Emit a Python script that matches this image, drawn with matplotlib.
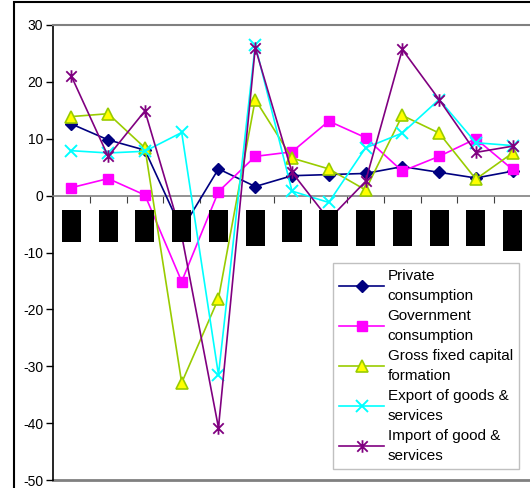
import matplotlib
matplotlib.use("Agg")
import matplotlib.pyplot as plt
from matplotlib.path import Path
from matplotlib.patches import Rectangle
import numpy as np

plt.rcParams['font.family'] = ['Liberation Sans', 'DejaVu Sans']
plt.rcParams['axes.unicode_minus'] = False

# Growth rates (%) for 13 periods
periods = np.arange(13)
private_consumption = [12.6, 9.8, 8.0, -6.0, 4.7, 1.6, 3.5, 3.7, 3.9, 5.1, 4.1, 3.1, 4.3]
government_consumption = [1.4, 3.0, 0.1, -15.1, 0.7, 6.9, 7.7, 13.1, 10.2, 4.3, 6.9, 10.0, 4.6]
gross_fixed_capital = [13.9, 14.4, 8.4, -32.9, -18.1, 16.9, 6.6, 4.7, 1.0, 14.1, 11.0, 2.9, 7.5]
exports = [7.9, 7.5, 7.8, 11.1, -31.5, 26.5, 0.8, -1.2, 8.4, 11.0, 16.9, 9.3, 8.8]
imports = [21.0, 6.9, 14.9, -7.0, -40.8, 26.0, 4.1, -4.2, 2.5, 25.7, 16.9, 7.6, 8.7]

# Period labels are masked by solid blocks; depth of each block
label_top = -2.5
label_bottom = [-8.1, -8.1, -8.1, -8.1, -8.1, -8.9, -8.1, -8.9, -8.9, -8.9, -8.9, -8.9, -9.8]

W, H = 530, 488
fig = plt.figure(figsize=(W / 100, H / 100), dpi=100)
ax = fig.add_axes([53 / W, 8 / H, 478 / W, 455 / H])

# Excel-style star marker: vertical bar plus an X
star = Path([(-1, -1), (1, 1), (-1, 1), (1, -1), (0, -1.2), (0, 1.2)],
            [Path.MOVETO, Path.LINETO, Path.MOVETO, Path.LINETO, Path.MOVETO, Path.LINETO])

lw = 1.2
ax.plot(periods, private_consumption, color='#000080', lw=lw, marker='D', ms=6.5,
        mfc='#000080', mec='#000080', label='Private\nconsumption', zorder=3)
ax.plot(periods, government_consumption, color='#FF00FF', lw=lw, marker='s', ms=7.5,
        mfc='#FF00FF', mec='#FF00FF', label='Government\nconsumption', zorder=3)
ax.plot(periods, gross_fixed_capital, color='#99CC00', lw=lw, marker='^', ms=8.5,
        mfc='#FFFF00', mec='#99CC00', mew=1.2, label='Gross fixed capital\nformation', zorder=3)
ax.plot(periods, exports, color='#00FFFF', lw=lw, marker='x', ms=9,
        mec='#00FFFF', mew=1.4, label='Export of goods &\nservices', zorder=3)
ax.plot(periods, imports, color='#800080', lw=lw, marker=star, ms=9,
        mec='#800080', mew=1.3, label='Import of good &\nservices', zorder=3)

# masked category labels
heights = [b - label_top for b in label_bottom]
ax.bar(periods, heights, bottom=label_top, width=0.52, color='black', zorder=4)

ax.set_xlim(-0.5, 12.5)
ax.set_ylim(-50, 30)
ax.set_yticks(np.arange(-50, 31, 10))
ax.tick_params(axis='y', direction='out', length=5, width=1, pad=2, labelsize=10)
ax.set_xticks(np.arange(0.5, 12, 1))
ax.set_xticklabels([])
ax.tick_params(axis='x', direction='out', length=5, width=0.8, colors='#404040')

ax.spines['bottom'].set_position(('data', 0))
ax.spines['bottom'].set_color('#808080')
ax.spines['bottom'].set_linewidth(1.2)
ax.spines['top'].set_color('#808080')
ax.spines['top'].set_linewidth(1.5)
ax.spines['right'].set_visible(False)
ax.spines['left'].set_linewidth(1.2)
ax.axhline(-50, color='#808080', lw=2, clip_on=False, zorder=1)

leg = ax.legend(loc='upper left', bbox_to_anchor=(333 / W, 1 - 263 / H),
                bbox_transform=fig.transFigure, borderaxespad=0, fontsize=11,
                handlelength=2.95, handletextpad=0.2, labelspacing=0.42,
                borderpad=0.42, fancybox=False, framealpha=1, edgecolor='#C0C0C0')
leg.get_frame().set_linewidth(1.0)
for t in leg.get_texts():
    t.set_linespacing(1.5)

# outer chart frame
fig.patches.append(Rectangle((14 / W, -0.1), 1.0, 1.1 - 1.5 / H, transform=fig.transFigure,
                             fill=False, edgecolor='black', lw=1.5))

fig.savefig('out.png', dpi=100)
